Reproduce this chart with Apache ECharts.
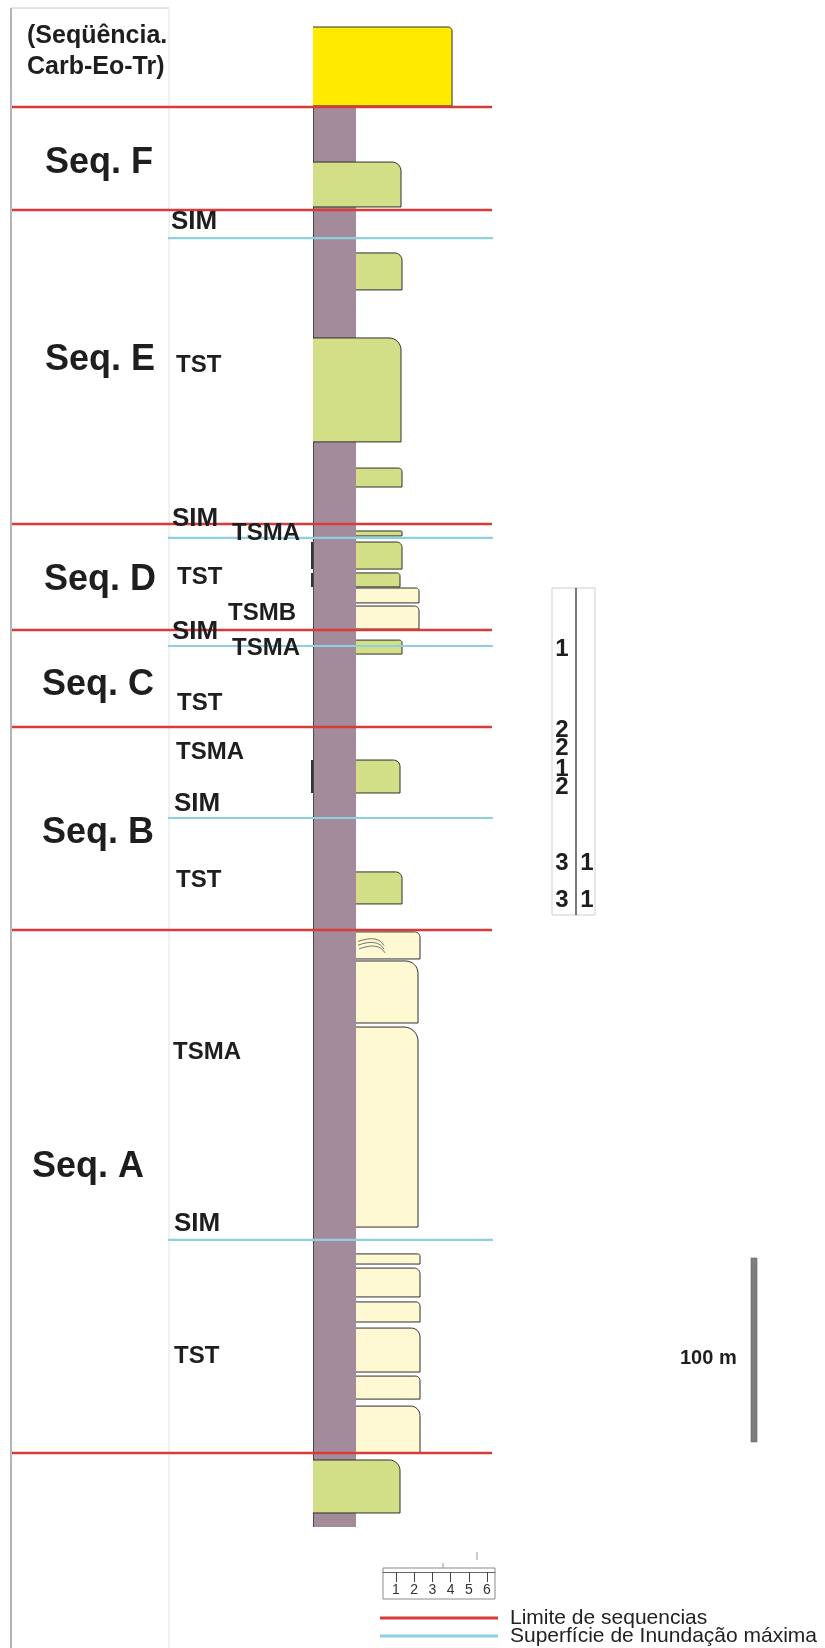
<!DOCTYPE html>
<html>
<head>
<meta charset="utf-8">
<script src="https://cdn.jsdelivr.net/npm/echarts@6.0.0/dist/echarts.min.js"></script>
<style>
html,body{margin:0;padding:0;background:#ffffff;}
#chart{width:825px;height:1648px;}
</style>
</head>
<body>
<div id="chart"></div>
<script>
// ---------------- DATA ----------------
// Depths in metres below the top of the carbonate unit (scale bar = 100 m).
const sequenceBoundaries = [43.5, 99.5, 270.1, 327.7, 380.4, 490.8, 775.0];
const floodingSurfaces   = [114.7, 277.7, 336.4, 429.9, 659.2];

// Beds: [top, base, grainLeft, grainRight] (grain = relative grain-size width)
const mudColumn = [[43.5, 815.2, 0, 4.3]];
const carbonateBeds = [[0, 42.9, 0, 13.9]];
const siltBeds = [
  [73.4, 97.8, 0, 8.8],
  [122.8, 142.9, 4.3, 8.9],
  [169.0, 225.5, 0, 8.8],
  [239.7, 250.0, 4.3, 8.9],
  [273.9, 276.6, 4.3, 8.9],
  [279.9, 294.6, 4.3, 8.9],
  [296.7, 304.3, 4.3, 8.7],
  [333.2, 340.8, 4.3, 8.9],
  [398.4, 416.3, 4.3, 8.7],
  [459.2, 476.6, 4.3, 8.9],
  [778.8, 807.6, 0, 8.7]
];
const sandBeds = [
  [304.9, 313.0, 4.3, 10.6],
  [314.7, 327.2, 4.3, 10.6],
  [491.8, 506.5, 4.3, 10.7],
  [507.6, 541.3, 4.3, 10.5],
  [543.5, 652.2, 4.3, 10.5],
  [666.8, 672.3, 4.3, 10.7],
  [674.5, 690.2, 4.3, 10.7],
  [692.9, 703.8, 4.3, 10.7],
  [707.1, 731.0, 4.3, 10.7],
  [733.2, 745.7, 4.3, 10.7],
  [749.5, 775.0, 4.3, 10.7]
];
// short dark marks on the left edge of the column: [top, base]
const edgeMarks = [[279.9, 294.6], [296.7, 304.3], [398.4, 416.3]];
// cross-bedding marks: [depth, grain position]
const crossBedding = [[497.0, 4.5], [499.0, 4.5], [501.0, 4.6]];

// Sequence names and the depth of each label
const sequenceNames  = ['(Seqüência.\nCarb-Eo-Tr)', 'Seq. F', 'Seq. E', 'Seq. D', 'Seq. C', 'Seq. B', 'Seq. A'];
const sequenceDepths = [13.6, 73.9, 181.0, 300.5, 357.5, 438.0, 619.6];

// Systems tracts / surfaces labels
const tractNames  = ['SIM', 'TST', 'SIM', 'TSMA', 'TST', 'TSMB', 'SIM', 'TSMA', 'TST', 'TSMA', 'SIM', 'TST', 'TSMA', 'SIM', 'TST'];
const tractDepths = [106.0, 183.7, 267.4, 275.0, 298.9, 318.5, 328.8, 337.5, 367.4, 394.0, 422.3, 463.6, 557.1, 650.5, 722.3];

// Right-hand table
const tableSpan    = [304.9, 482.6];
const tableCol1    = ['1', '2', '2', '1', '2', '3', '3'];
const tableCol2    = ['', '', '', '', '', '1', '1'];
const tableDepths  = [338.0, 382.1, 391.8, 403.3, 413.0, 454.3, 474.5];

// Scale bar
const scaleBar = [669.0, 769.0];
const scaleLabel = '100 m';
const scaleLabelDepth = 723.4;

// Grain-size legend ticks
const grainTicks = [1, 2, 3, 4, 5, 6];

const legendNames = ['Limite de sequencias', 'Superfície de Inundação máxima'];

// ---------------- LAYOUT / STYLE ----------------
const FONT = '"Liberation Sans", Arial, Helvetica, sans-serif';
const INK = '#1e1e1e';
const COLORS = {
  mud: '#a48b9b', carbonate: '#ffea00', silt: '#d3df87', sand: '#fef8d3',
  boundary: '#d93a3a', flooding: '#8ecfe0'
};
const sequenceX = [27, 45, 45, 44, 42, 42, 32];
const tractX    = [171, 176, 172, 232, 177, 228, 172, 232, 177, 176, 174, 176, 173, 174, 174];

const chart = echarts.init(document.getElementById('chart'), null, { renderer: 'canvas' });

function bedRenderer(fill, maxCorner) {
  return function (params, api) {
    const a = api.coord([api.value(2), api.value(0)]);
    const b = api.coord([api.value(3), api.value(1)]);
    const x0 = a[0], y0 = a[1], x1 = b[0], y1 = b[1];
    const c = Math.min(maxCorner, 0.2 * (y1 - y0));
    const curve = [];
    for (let i = 0; i <= 8; i++) {
      const t = i / 8 * Math.PI / 2;
      curve.push([x1 - c + c * Math.sin(t), y0 + c - c * Math.cos(t)]);
    }
    const outline = [[x0, y0]].concat(curve, [[x1, y1], [x0, y1]]);
    return {
      type: 'group',
      children: [
        { type: 'polygon', shape: { points: outline }, style: { fill: fill, stroke: 'none' } },
        { type: 'polyline', shape: { points: outline }, style: { fill: 'none', stroke: '#2e2e2e', lineWidth: 1 } }
      ]
    };
  };
}

function hLineRenderer(x0, x1, color, width) {
  return function (params, api) {
    const p0 = api.coord([x0, api.value(1)]);
    const p1 = api.coord([x1, api.value(1)]);
    return { type: 'line', shape: { x1: p0[0], y1: p0[1], x2: p1[0], y2: p1[1] },
             style: { stroke: color, lineWidth: width } };
  };
}

function textRenderer(texts, xs, size) {
  return function (params, api) {
    const i = params.dataIndex;
    const p = api.coord([xs[i], api.value(1)]);
    const fs = size(texts[i]);
    return { type: 'text', x: p[0], y: p[1],
      style: { text: texts[i], fontFamily: FONT, fontSize: fs, fontWeight: 'bold',
               lineHeight: Math.round(fs * 1.25), fill: INK, align: 'left', verticalAlign: 'middle' } };
  };
}

const depthAxis = (gi) => ({ gridIndex: gi, type: 'value', min: 0, max: 1000, inverse: true, show: false });

const option = {
  animation: false,
  backgroundColor: '#ffffff',
  grid: [
    { left: 0, top: 27, width: 825, height: 1840, outerBoundsMode: 'none' },
    { left: 313, top: 27, width: 140, height: 1840, outerBoundsMode: 'none' },
    { left: 383, top: 1568, width: 112, height: 31, show: true, borderColor: '#8a8a8a', borderWidth: 1,
      backgroundColor: 'transparent', outerBoundsMode: 'none' }
  ],
  xAxis: [
    { gridIndex: 0, type: 'value', min: 0, max: 825, show: false },
    { gridIndex: 1, type: 'value', min: 0, max: 14, show: false },
    { gridIndex: 2, type: 'value', min: 0.29, max: 6.44, position: 'top', offset: -4,
      axisLine: { show: true, onZero: false, lineStyle: { color: '#666', width: 1 } },
      axisTick: { show: true, inside: true, length: 10, customValues: grainTicks, lineStyle: { color: '#444', width: 1 } },
      axisLabel: { show: true, inside: true, margin: 11, customValues: grainTicks, fontSize: 14,
                   color: '#333', fontFamily: FONT },
      splitLine: { show: false } }
  ],
  yAxis: [
    depthAxis(0), depthAxis(1),
    { gridIndex: 2, type: 'value', min: 0, max: 1, show: false }
  ],
  legend: {
    orient: 'vertical', left: 380, top: 1606, width: 440, height: 100, padding: 0,
    itemWidth: 118, itemHeight: 3, itemGap: -6,
    icon: 'rect', selectedMode: false,
    data: [
      { name: legendNames[0], itemStyle: { color: COLORS.boundary } },
      { name: legendNames[1], itemStyle: { color: COLORS.flooding } }
    ],
    textStyle: { fontSize: 21, lineHeight: 18, color: '#222', fontFamily: FONT, padding: [0, 0, 6, 7] }
  },
  graphic: [
    { type: 'line', shape: { x1: 11, y1: 8, x2: 11, y2: 1648 }, style: { stroke: '#9c9c9c', lineWidth: 1.5 }, z: 0 },
    { type: 'line', shape: { x1: 11, y1: 8, x2: 169, y2: 8 }, style: { stroke: '#c8c8c8', lineWidth: 1 }, z: 0 },
    { type: 'line', shape: { x1: 169, y1: 8, x2: 169, y2: 1648 }, style: { stroke: '#e3e3e3', lineWidth: 1 }, z: 0 },
    { type: 'line', shape: { x1: 443, y1: 1563, x2: 443, y2: 1568 }, style: { stroke: '#999', lineWidth: 1 } },
    { type: 'line', shape: { x1: 477, y1: 1552, x2: 477, y2: 1560 }, style: { stroke: '#999', lineWidth: 1 } }
  ],
  series: [
    { type: 'custom', name: 'mud', xAxisIndex: 1, yAxisIndex: 1, z: 1, silent: true,
      data: mudColumn,
      renderItem: function (params, api) {
        const a = api.coord([api.value(2), api.value(0)]);
        const b = api.coord([api.value(3), api.value(1)]);
        return { type: 'group', children: [
          { type: 'rect', shape: { x: a[0], y: a[1], width: b[0] - a[0], height: b[1] - a[1] },
            style: { fill: COLORS.mud } },
          { type: 'line', shape: { x1: a[0] + 0.5, y1: a[1], x2: a[0] + 0.5, y2: b[1] },
            style: { stroke: '#4a4a4a', lineWidth: 1 } }
        ] };
      } },
    { type: 'custom', name: 'edgeMarks', xAxisIndex: 1, yAxisIndex: 1, z: 2, silent: true,
      data: edgeMarks,
      renderItem: function (params, api) {
        const a = api.coord([0, api.value(0)]);
        const b = api.coord([0, api.value(1)]);
        return { type: 'line', shape: { x1: a[0] - 1, y1: a[1], x2: b[0] - 1, y2: b[1] },
                 style: { stroke: '#333', lineWidth: 2 } };
      } },
    { type: 'custom', name: 'carbonate', xAxisIndex: 1, yAxisIndex: 1, z: 3, silent: true,
      data: carbonateBeds, renderItem: bedRenderer(COLORS.carbonate, 4) },
    { type: 'custom', name: 'silt', xAxisIndex: 1, yAxisIndex: 1, z: 3, silent: true,
      data: siltBeds, renderItem: bedRenderer(COLORS.silt, 12) },
    { type: 'custom', name: 'sand', xAxisIndex: 1, yAxisIndex: 1, z: 3, silent: true,
      data: sandBeds, renderItem: bedRenderer(COLORS.sand, 14) },
    { type: 'custom', name: 'crossBedding', xAxisIndex: 1, yAxisIndex: 1, z: 4, silent: true,
      data: crossBedding,
      renderItem: function (params, api) {
        const p = api.coord([api.value(1), api.value(0)]);
        return { type: 'bezierCurve',
          shape: { x1: p[0], y1: p[1], cpx1: p[0] + 14, cpy1: p[1] - 5, cpx2: p[0] + 22, cpy2: p[1] - 3,
                   x2: p[0] + 26, y2: p[1] + 4 },
          style: { stroke: '#555', lineWidth: 0.8, fill: 'none' } };
      } },
    { type: 'custom', name: legendNames[0], xAxisIndex: 0, yAxisIndex: 0, z: 5, silent: true,
      itemStyle: { color: COLORS.boundary },
      data: sequenceBoundaries.map(d => [12, d]),
      renderItem: hLineRenderer(12, 492, COLORS.boundary, 2.5) },
    { type: 'custom', name: legendNames[1], xAxisIndex: 0, yAxisIndex: 0, z: 5, silent: true,
      itemStyle: { color: COLORS.flooding },
      data: floodingSurfaces.map(d => [168, d]),
      renderItem: hLineRenderer(168, 493, COLORS.flooding, 2.2) },
    { type: 'custom', name: 'sequences', xAxisIndex: 0, yAxisIndex: 0, z: 6, silent: true,
      data: sequenceDepths.map((d, i) => [sequenceX[i], d]),
      renderItem: textRenderer(sequenceNames, sequenceX, t => t.charAt(0) === '(' ? 25 : 36) },
    { type: 'custom', name: 'tracts', xAxisIndex: 0, yAxisIndex: 0, z: 6, silent: true,
      data: tractDepths.map((d, i) => [tractX[i], d]),
      renderItem: textRenderer(tractNames, tractX, t => t === 'SIM' ? 26 : 24) },
    { type: 'custom', name: 'tableBox', xAxisIndex: 0, yAxisIndex: 0, z: 4, silent: true,
      data: [[552, tableSpan[0], tableSpan[1]]],
      renderItem: function (params, api) {
        const a = api.coord([552, api.value(1)]);
        const b = api.coord([595, api.value(2)]);
        const m = api.coord([576, 0]);
        return { type: 'group', children: [
          { type: 'rect', shape: { x: a[0], y: a[1], width: b[0] - a[0], height: b[1] - a[1] },
            style: { fill: 'none', stroke: '#cfcfcf', lineWidth: 1 } },
          { type: 'line', shape: { x1: m[0], y1: a[1], x2: m[0], y2: b[1] },
            style: { stroke: '#222', lineWidth: 1.2 } }
        ] };
      } },
    { type: 'custom', name: 'tableText', xAxisIndex: 0, yAxisIndex: 0, z: 6, silent: true,
      data: tableDepths.map(d => [0, d]),
      renderItem: function (params, api) {
        const i = params.dataIndex;
        const p1 = api.coord([562, api.value(1)]);
        const p2 = api.coord([587, api.value(1)]);
        const st = { fontFamily: FONT, fontSize: 24, fontWeight: 'bold', fill: INK, align: 'center', verticalAlign: 'middle' };
        return { type: 'group', children: [
          { type: 'text', x: p1[0], y: p1[1], style: Object.assign({ text: tableCol1[i] }, st) },
          { type: 'text', x: p2[0], y: p2[1], style: Object.assign({ text: tableCol2[i] }, st) }
        ] };
      } },
    { type: 'custom', name: 'scale', xAxisIndex: 0, yAxisIndex: 0, z: 6, silent: true,
      data: [[754, scaleBar[0], scaleBar[1]]],
      renderItem: function (params, api) {
        const a = api.coord([751, api.value(1)]);
        const b = api.coord([757, api.value(2)]);
        const t = api.coord([680, scaleLabelDepth]);
        return { type: 'group', children: [
          { type: 'rect', shape: { x: a[0], y: a[1], width: b[0] - a[0], height: b[1] - a[1] },
            style: { fill: '#7e7e7e', stroke: '#666', lineWidth: 0.6 } },
          { type: 'text', x: t[0], y: t[1], style: { text: scaleLabel, fontFamily: FONT, fontSize: 20,
            fontWeight: 'bold', fill: INK, align: 'left', verticalAlign: 'middle' } }
        ] };
      } }
  ]
};

chart.setOption(option);
</script>
</body>
</html>
